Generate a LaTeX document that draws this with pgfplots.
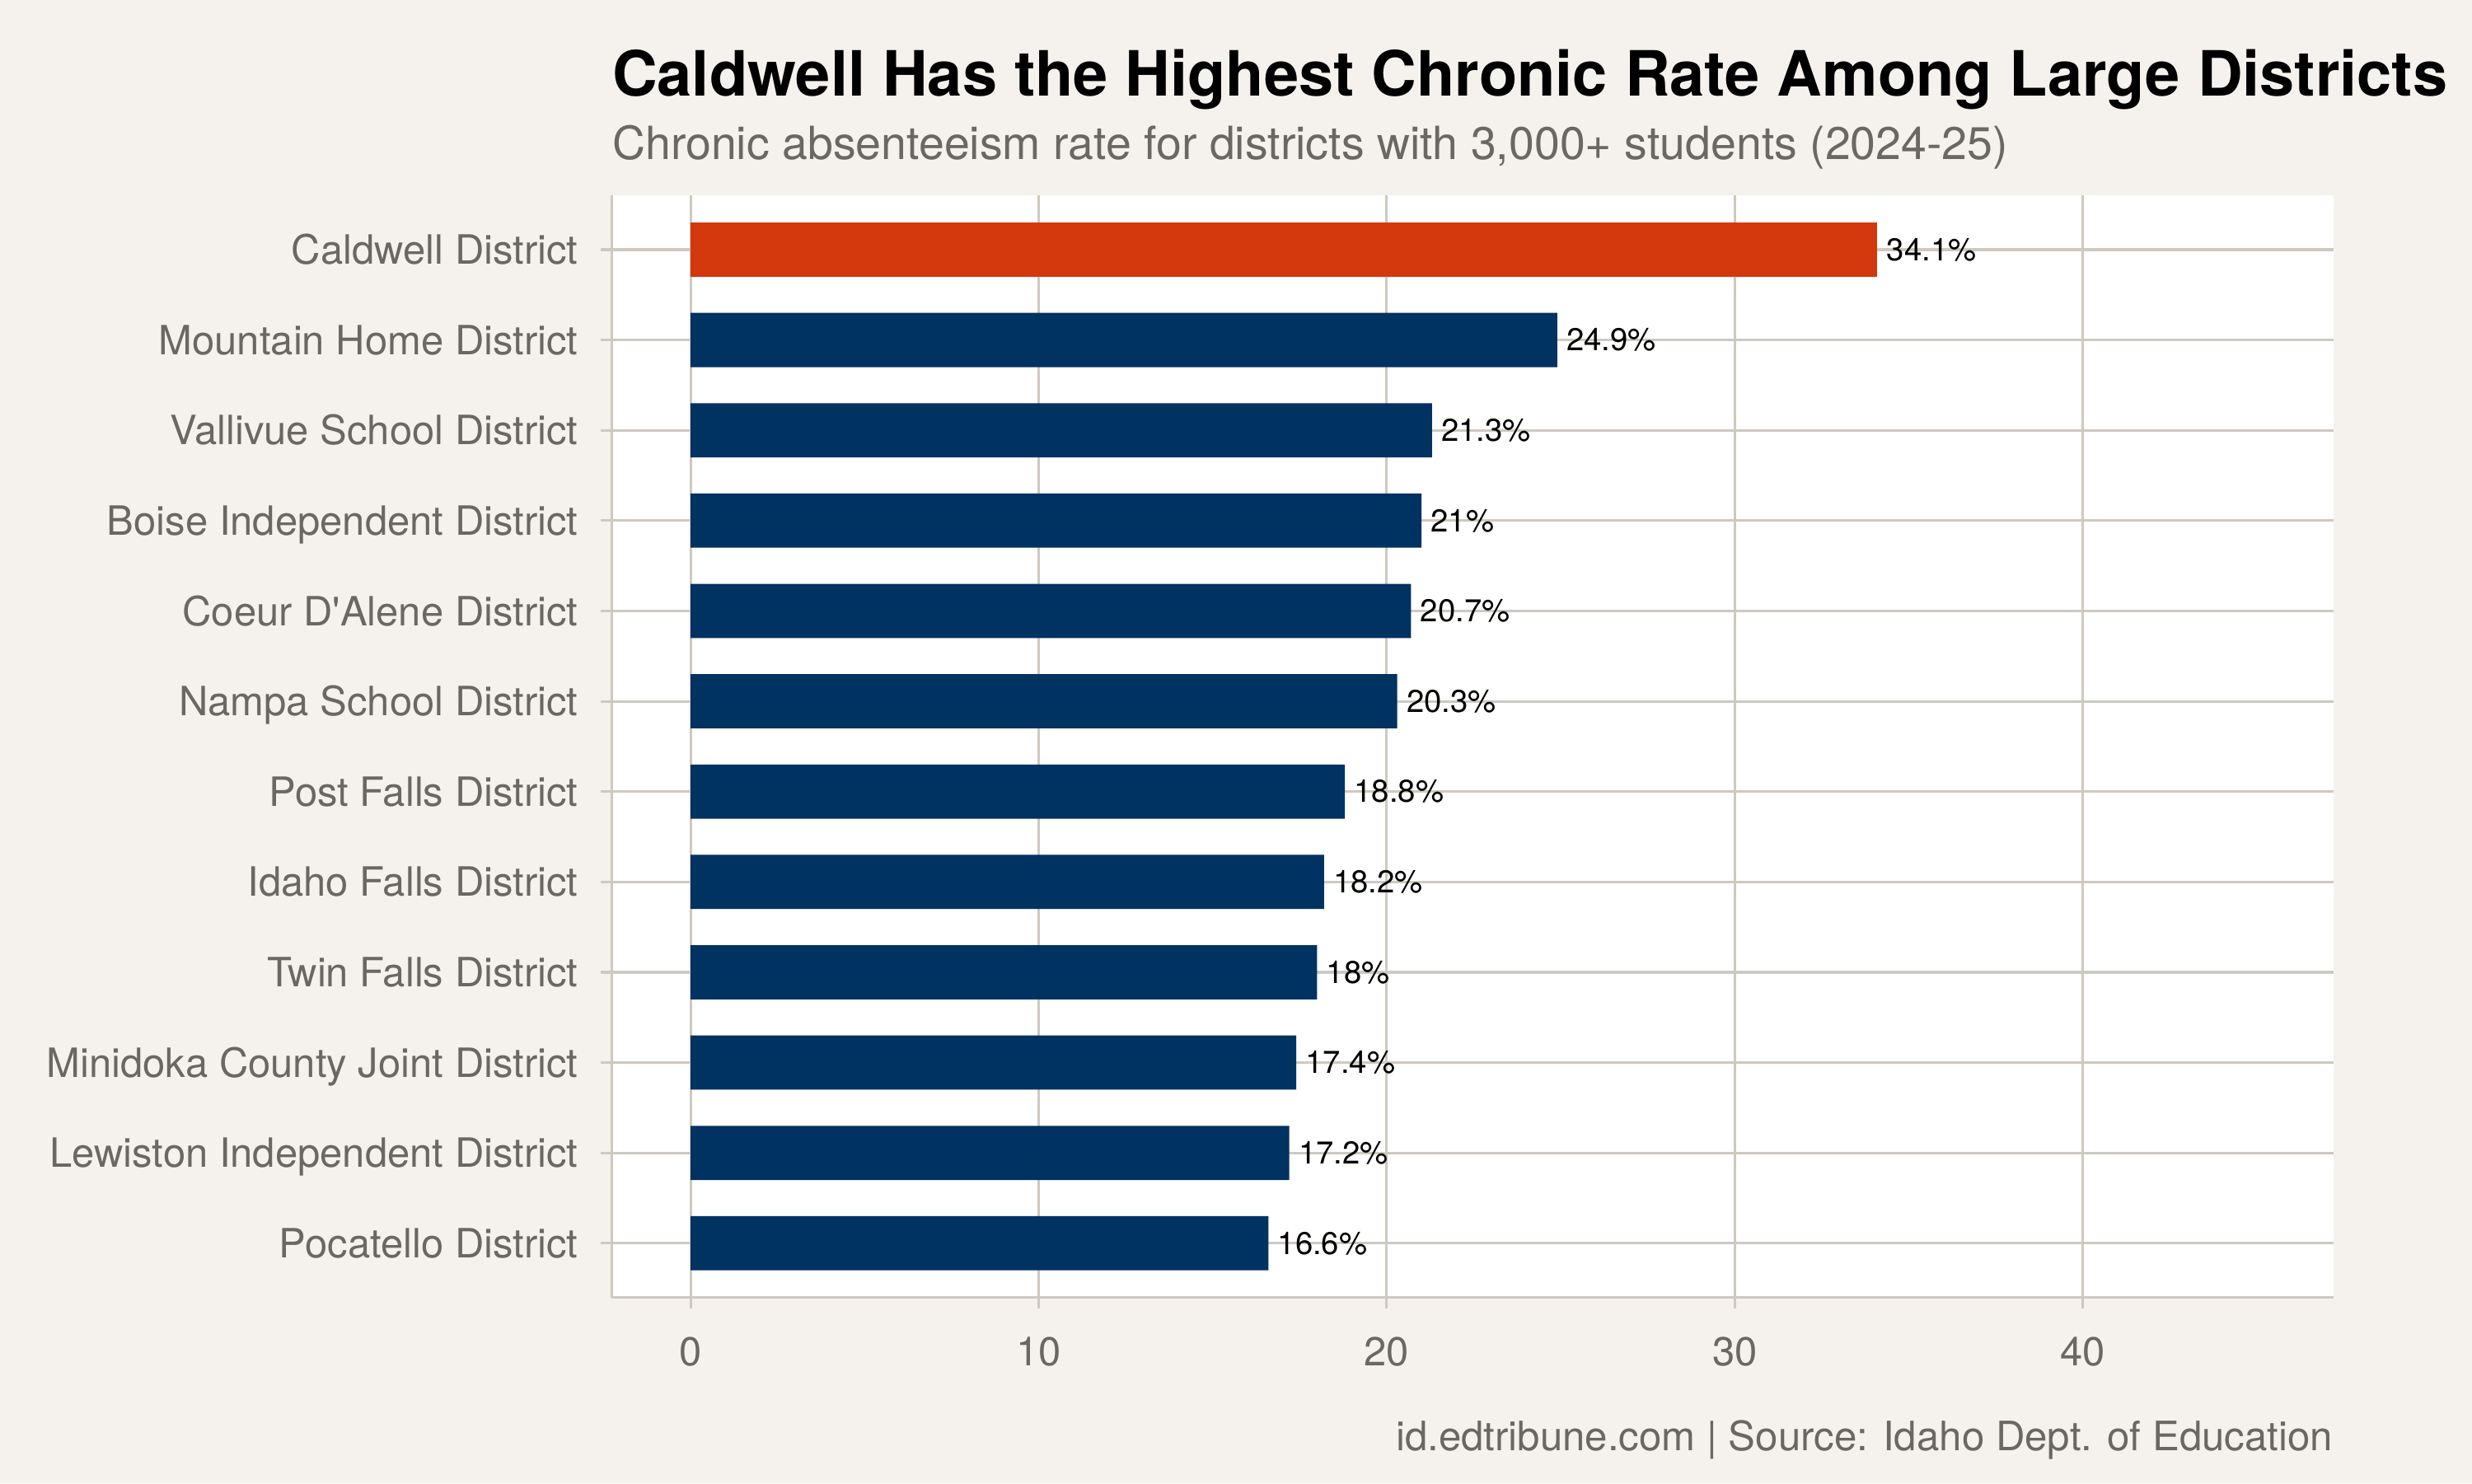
\documentclass[border=0pt]{standalone}
\usepackage{pgfplots}
\pgfplotsset{compat=1.18}
\usepackage{fontspec}
\setmainfont{TeX Gyre Heros}
\definecolor{bgcol}{HTML}{F5F2EE}
\definecolor{gridcol}{HTML}{CEC9C0}
\definecolor{labcol}{HTML}{6B6762}
\definecolor{navy}{HTML}{003262}
\definecolor{hot}{HTML}{D4380D}
\begin{document}
\begin{tikzpicture}
\fill[bgcol] (0,0) rectangle (784pt,470.5pt);
\node[anchor=base west, inner sep=0pt] at (194pt,440pt)
  {\fontsize{19.8}{24}\selectfont\bfseries Caldwell Has the Highest Chronic Rate Among Large Districts};
\node[anchor=base west, inner sep=0pt, text=labcol] at (194pt,420pt)
  {\fontsize{14.5}{17}\selectfont Chronic absenteeism rate for districts with 3,000+ students (2024-25)};
\node[anchor=base east, inner sep=0pt, text=labcol] at (740pt,10.5pt)
  {\fontsize{12.85}{15}\selectfont id.edtribune.com | Source: Idaho Dept. of Education};
\begin{axis}[
    at={(194pt,59pt)}, anchor=south west,
    scale only axis, width=546pt, height=349.5pt,
    xbar, bar width=0.6, bar shift=0pt,
    xmin=-2.27, xmax=47.2, ymin=-0.6, ymax=11.6,
    axis background/.style={fill=white},
    axis x line=bottom, axis y line=left,
    axis line style={-, draw=gridcol, line width=0.8pt},
    xmajorgrids, ymajorgrids,
    grid style={draw=gridcol, line width=0.8pt},
    tick style={draw=gridcol, line width=0.8pt},
    tick align=outside, major tick length=3.5pt,
    xtick={0,10,20,30,40}, ytick={0,...,11},
    yticklabels={Pocatello District, Lewiston Independent District, Minidoka County Joint District,
      Twin Falls District, Idaho Falls District, Post Falls District, Nampa School District,
      Coeur D\textquotesingle Alene District, Boise Independent District, Vallivue School District,
      Mountain Home District, Caldwell District},
    tick label style={font=\fontsize{12.8}{15}\selectfont, text=labcol, inner sep=0pt},
    xticklabel style={anchor=north, yshift=-9pt},
    yticklabel style={anchor=base east, xshift=-7pt, yshift=-4.6pt},
    /pgf/number format/assume math mode=true,
    point meta=x,
    nodes near coords={\pgfmathprintnumber{\pgfplotspointmeta}\%},
    every node near coord/.append style={anchor=west, inner sep=0pt, xshift=2.8pt,
      font=\fontsize{10}{12}\selectfont, text=black},
]
\addplot[fill=navy, draw=none] coordinates {
    (16.6,0) (17.2,1) (17.4,2) (18.0,3) (18.2,4) (18.8,5)
    (20.3,6) (20.7,7) (21.0,8) (21.3,9) (24.9,10)
};
\addplot[fill=hot, draw=none] coordinates {
    (34.1,11)
};
\end{axis}
\end{tikzpicture}
\end{document}
